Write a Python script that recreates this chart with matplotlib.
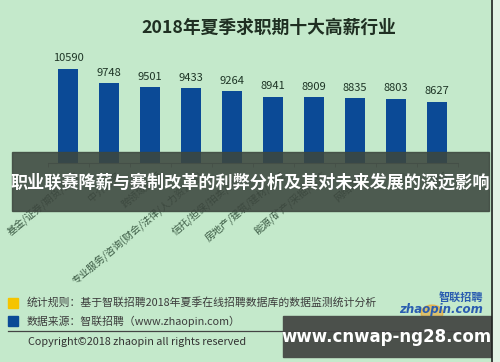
import matplotlib
matplotlib.use("Agg")
import matplotlib.pyplot as plt
import matplotlib.transforms as mtransforms
from matplotlib.patches import Rectangle, Circle

plt.rcParams['font.family'] = ['Noto Sans CJK SC', 'DejaVu Sans']

industries = ["基金/证券/期货/投资", "中介服务", "跨领域经营",
              "专业服务/咨询(财会/法律/人力资源等)", "信托/担保/拍卖/典当",
              "房地产/建筑/建材/工程", "能源/矿产/采掘/冶炼", "网络游戏",
              "保险", "银行"]
salaries = [10590, 9748, 9501, 9433, 9264, 8941, 8909, 8835, 8803, 8627]

W, H = 500, 362
bg = "#c4e9cb"
bar_color = "#0b4a96"

fig = plt.figure(figsize=(W / 100, H / 100), dpi=100, facecolor=bg)

# pixel helpers for figure-level decorations
def fx(px):
    return px / W

def fy(py):
    return 1 - py / H

ax = fig.add_axes([fx(47.5), fy(163), (457.5 - 47.5) / W, (163 - 62) / H])
ax.set_facecolor(bg)
ax.patch.set_alpha(0)
x = list(range(len(salaries)))
bars = ax.bar(x, salaries, width=0.5, color=bar_color, zorder=2)
ax.set_xlim(-0.5, len(salaries) - 0.5)
ax.set_ylim(5000, 11000)
for b, v in zip(bars, salaries):
    ax.annotate(str(v), (b.get_x() + b.get_width() / 2, v), xytext=(0, 4),
                textcoords="offset points", ha="center", va="bottom",
                fontsize=8, color="#1e3526")

for s in ["top", "right", "left"]:
    ax.spines[s].set_visible(False)
ax.spines["bottom"].set_color("#7d8c80")
ax.set_yticks([])
ax.set_xticks(x)
ax.set_xticklabels(industries, rotation=40, ha="right", rotation_mode="anchor",
                   fontsize=7.2, color="#3b5a44")
ax.tick_params(axis="x", which="major", length=0, pad=5)
shift = mtransforms.ScaledTranslation(0.08, 0, fig.dpi_scale_trans)
for lab in ax.get_xticklabels():
    lab.set_transform(lab.get_transform() + shift)
ax.set_xticks([i - 0.5 for i in range(len(salaries) + 1)], minor=True)
ax.tick_params(axis="x", which="minor", length=3, color="#7d8c80")

fig.text(fx(269), fy(28), "2018年夏季求职期十大高薪行业", ha="center", va="center",
         fontsize=12.8, fontweight="bold", color="#1f2f22")

# legend / notes at the bottom
fig.patches.append(Rectangle((fx(8), fy(308)), fx(10), 10 / H, transform=fig.transFigure,
                             color="#f5c400"))
fig.patches.append(Rectangle((fx(8), fy(326)), fx(10), 10 / H, transform=fig.transFigure,
                             color=bar_color))
fig.text(fx(27), fy(302), "统计规则：基于智联招聘2018年夏季在线招聘数据库的数据监测统计分析",
         ha="left", va="center", fontsize=7.8, color="#3c3c3c")
fig.text(fx(27), fy(321), "数据来源：智联招聘（www.zhaopin.com）",
         ha="left", va="center", fontsize=7.8, color="#3c3c3c")
fig.lines.append(plt.Line2D([fx(8), fx(488)], [fy(331), fy(331)], transform=fig.transFigure,
                            color="#444444", lw=0.9))
fig.text(fx(28), fy(342), "Copyright©2018 zhaopin all rights reserved",
         ha="left", va="center", fontsize=7.8, color="#333333")

# logo
fig.patches.append(Circle((fx(432), fy(313)), 11 / W, transform=fig.transFigure,
                          color="#f0a020", alpha=0.55))
fig.text(fx(483), fy(298), "智联招聘", ha="right", va="center", fontsize=8,
         fontweight="bold", style="italic", color="#2a5db0")
fig.text(fx(483), fy(310), "zhaopin.com", ha="right", va="center", fontsize=8.5,
         fontweight="bold", style="italic", color="#2a5db0", family="DejaVu Sans")

# overlay banner
fig.patches.append(Rectangle((fx(12), fy(211)), (489 - 12) / W, (211 - 152) / H,
                             transform=fig.transFigure, color="#3d473f", alpha=0.88))
fig.text(fx(250), fy(183), "职业联赛降薪与赛制改革的利弊分析及其对未来发展的深远影响",
         ha="center", va="center", fontsize=12.3, fontweight="bold", color="white")

# watermark box
fig.patches.append(Rectangle((fx(283), fy(357)), (491 - 283) / W, (357 - 316) / H,
                             transform=fig.transFigure, color="#4b504b"))
fig.text(fx(387), fy(337), "www.cnwap-ng28.com", ha="center", va="center",
         fontsize=12, fontweight="bold", color="white", family="DejaVu Sans")

# right border
fig.lines.append(plt.Line2D([fx(492), fx(492)], [0, 1], transform=fig.transFigure,
                            color="#222222", lw=1.2))
fig.patches.append(Rectangle((fx(493), 0), fx(7), 1, transform=fig.transFigure,
                             color="#e2f2e5"))

fig.savefig("out.png", dpi=100, facecolor=bg)
